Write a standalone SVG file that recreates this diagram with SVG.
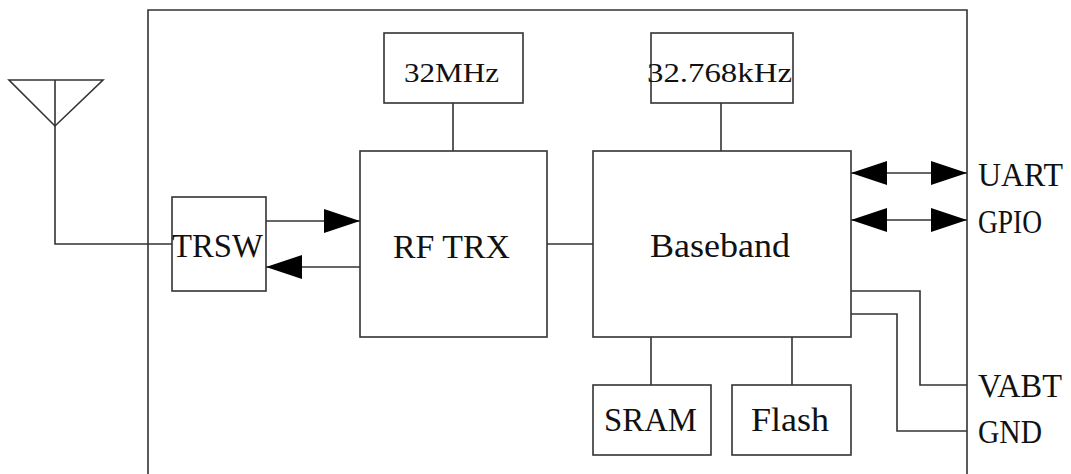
<svg xmlns="http://www.w3.org/2000/svg" width="1071" height="474" viewBox="0 0 1071 474">
<style>
.box{fill:#fff;stroke:#333;stroke-width:1.6}
.ln{fill:none;stroke:#333;stroke-width:1.6}
text{font-family:"Liberation Serif","DejaVu Serif",serif;fill:#111;font-size:34px}
.sm{font-size:28px}
</style>
<defs>
<marker id="ah" viewBox="0 0 36 24" refX="36" refY="12" markerWidth="36" markerHeight="24" markerUnits="userSpaceOnUse" orient="auto-start-reverse">
<path d="M0,0 L36,12 L0,24 Z" fill="#000"/>
</marker>
</defs>
<rect width="1071" height="474" fill="#fff"/>
<g id="frame"><path class="ln" d="M148,480 V10 H967 V480"/></g>
<g id="connectors">
<polyline class="ln" points="55,80 55,244 172,244"/>
<line class="ln" x1="266" y1="221" x2="360" y2="221" marker-end="url(#ah)"/>
<line class="ln" x1="360" y1="267" x2="266" y2="267" marker-end="url(#ah)"/>
<line class="ln" x1="453" y1="103" x2="453" y2="151"/>
<line class="ln" x1="721" y1="103" x2="721" y2="151"/>
<line class="ln" x1="547" y1="244" x2="593" y2="244"/>
<line class="ln" x1="651" y1="337" x2="651" y2="385"/>
<line class="ln" x1="792" y1="337" x2="792" y2="385"/>
<line class="ln" x1="851" y1="173" x2="967" y2="173" marker-start="url(#ah)" marker-end="url(#ah)"/>
<line class="ln" x1="851" y1="220" x2="967" y2="220" marker-start="url(#ah)" marker-end="url(#ah)"/>
<polyline class="ln" points="851,291 920,291 920,385 967,385"/>
<polyline class="ln" points="851,314 897,314 897,431 967,431"/>
</g>
<g id="antenna"><polygon class="ln" points="9,80 103,80 55,126"/></g>
<g id="trsw"><rect class="box" x="172" y="197" width="94" height="94"/><text x="172" y="257" textLength="91" lengthAdjust="spacingAndGlyphs">TRSW</text></g>
<g id="osc32m"><rect class="box" x="384" y="33" width="139" height="70"/><text class="sm" x="404" y="82" textLength="95" lengthAdjust="spacingAndGlyphs">32MHz</text></g>
<g id="rftrx"><rect class="box" x="360" y="151" width="187" height="186"/><text x="393" y="258" textLength="117" lengthAdjust="spacingAndGlyphs">RF TRX</text></g>
<g id="osc32k"><rect class="box" x="651" y="33" width="142" height="70"/><text class="sm" x="647" y="82" textLength="145" lengthAdjust="spacingAndGlyphs">32.768kHz</text></g>
<g id="baseband"><rect class="box" x="593" y="151" width="258" height="186"/><text x="650" y="257" textLength="140" lengthAdjust="spacingAndGlyphs">Baseband</text></g>
<g id="sram"><rect class="box" x="593" y="385" width="118" height="70"/><text x="604" y="431" textLength="93" lengthAdjust="spacingAndGlyphs">SRAM</text></g>
<g id="flash"><rect class="box" x="732" y="385" width="119" height="70"/><text x="751" y="431" textLength="78" lengthAdjust="spacingAndGlyphs">Flash</text></g>
<g id="pins">
<text x="978" y="186" textLength="85" lengthAdjust="spacingAndGlyphs">UART</text>
<text x="978" y="233" textLength="64" lengthAdjust="spacingAndGlyphs">GPIO</text>
<text x="978" y="397" textLength="84" lengthAdjust="spacingAndGlyphs">VABT</text>
<text x="978" y="443" textLength="64" lengthAdjust="spacingAndGlyphs">GND</text>
</g>
</svg>
